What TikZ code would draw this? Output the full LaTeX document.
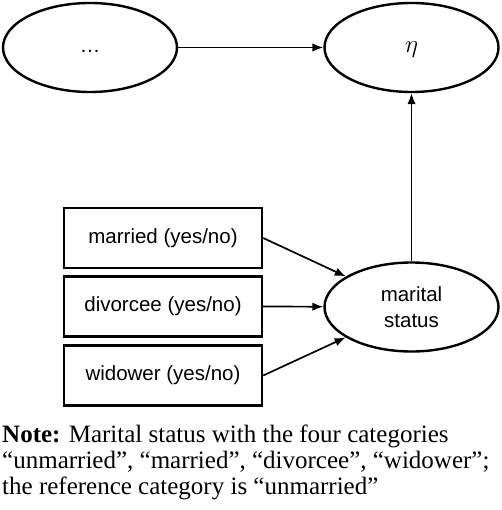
\documentclass[tikz,border=0pt]{standalone}
\usepackage{fontspec}
\setmainfont{Liberation Serif}
\setsansfont{Liberation Sans}
\usetikzlibrary{shapes.geometric, arrows.meta}

\begin{document}
\begin{tikzpicture}[x=1pt, y=-1pt,
  latent/.style={draw, ellipse, line width=2.4pt, inner sep=0pt,
    minimum width=174pt, minimum height=89pt,
    font=\sffamily\fontsize{20.5}{26}\selectfont, align=center},
  dummy/.style={draw, rectangle, line width=2.4pt, inner sep=0pt,
    minimum width=198pt, minimum height=60pt,
    font=\sffamily\fontsize{20.5}{26}\selectfont},
  path/.style={line width=1.7pt, -{Latex[length=11pt, width=8.5pt]}}]
\useasboundingbox (0,0) rectangle (501,510);

% Ellipses
\node[latent] (dots) at (90,47.5) {\strut\dots};
\node[latent, font=\fontsize{24}{26}\selectfont] (eta) at (411.5,47.5) {\strut$\eta$};
\node[latent] (status) at (411.5,307) {marital\\status};

% Boxes
\node[dummy] (married) at (163,238) {married (yes/no)};
\node[dummy] (divorcee) at (163,306.5) {divorcee (yes/no)};
\node[dummy] (widower) at (163,375.5) {widower (yes/no)};

% Arrows
\draw[path] (dots) -- (eta);
\draw[path] (status) -- (eta);
\draw[path] (married.east) -- (status);
\draw[path] (divorcee.east) -- (status);
\draw[path] (widower.east) -- (status);

% Note
\node[anchor=north west, inner sep=0pt, align=left,
  font=\fontsize{25}{26}\selectfont] (note) at (2,424.5)
  {\textbf{Note:} Marital status with the four categories\\
   ``unmarried'', ``married'', ``divorcee'', ``widower'';\\
   the reference category is ``unmarried''};
\end{tikzpicture}
\end{document}
